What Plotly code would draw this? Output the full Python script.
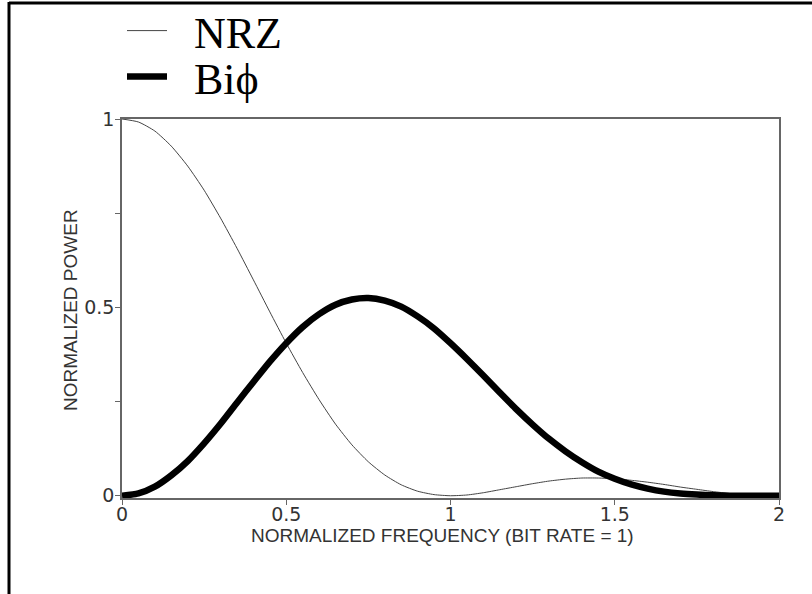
import plotly.graph_objects as go

freq = [round(i * 0.05, 2) for i in range(41)]

nrz = [1.000, 0.992, 0.968, 0.928, 0.875, 0.811, 0.737, 0.657, 0.573, 0.488,
       0.405, 0.327, 0.255, 0.190, 0.135, 0.090, 0.055, 0.029, 0.012, 0.003,
       0.000, 0.002, 0.008, 0.016, 0.024, 0.032, 0.039, 0.044, 0.047, 0.047,
       0.045, 0.041, 0.036, 0.030, 0.023, 0.017, 0.011, 0.006, 0.003, 0.001,
       0.000]

biphase = [0.000, 0.006, 0.024, 0.054, 0.092, 0.139, 0.191, 0.247, 0.302, 0.356,
           0.405, 0.448, 0.482, 0.507, 0.521, 0.525, 0.518, 0.502, 0.476, 0.444,
           0.405, 0.363, 0.319, 0.274, 0.230, 0.189, 0.151, 0.118, 0.089, 0.064,
           0.045, 0.030, 0.019, 0.011, 0.006, 0.003, 0.001, 0.000, 0.000, 0.000,
           0.000]

x_ticks = [0, 0.5, 1, 1.5, 2]
x_tick_text = ["0", "0.5", "1", "1.5", "2"]
y_ticks = [0, 0.25, 0.5, 0.75, 1]
y_tick_text = ["0", "", "0.5", "", "1"]

x_title = "NORMALIZED FREQUENCY (BIT RATE = 1)"
y_title = "NORMALIZED POWER"

W, H = 812, 594
L, R, T, B = 122, 779, 119, 498


def px(xp):
    return (xp - L) / (R - L)


def py(yp):
    return (B - yp) / (B - T)


fig = go.Figure()
fig.add_trace(go.Scatter(
    x=freq, y=nrz, mode="lines", name="\u00a0\u00a0NRZ", legend="legend",
    line=dict(color="#444444", width=1, shape="spline", smoothing=0.6),
))
fig.add_trace(go.Scatter(
    x=freq, y=biphase, mode="lines", name="\u00a0\u00a0Bi\u03d5", legend="legend2",
    line=dict(color="#000000", width=6.5, shape="spline", smoothing=0.6),
))

legend_common = dict(
    font=dict(family="Liberation Serif", size=44, color="#000000"),
    bgcolor="rgba(0,0,0,0)", borderwidth=0, itemwidth=40,
    xanchor="left", yanchor="middle", x=px(122),
)

tick_font = dict(family="DejaVu Sans", size=19, color="#333333")
title_font = dict(family="Liberation Sans", size=19, color="#333333")

fig.update_layout(
    width=W, height=H,
    margin=dict(l=L, r=W - R, t=T, b=H - B, autoexpand=False),
    paper_bgcolor="white", plot_bgcolor="white",
    showlegend=True,
    legend=dict(**legend_common, y=py(31)),
    legend2=dict(**legend_common, y=py(77)),
    xaxis=dict(
        range=[0, 2], tickvals=x_ticks, ticktext=x_tick_text,
        showgrid=False, zeroline=False,
        showline=True, linecolor="#666666", linewidth=1.5, mirror=True,
        ticks="outside", ticklen=5, tickcolor="#666666", tickwidth=1,
        tickfont=tick_font, ticklabelstandoff=-7,
        automargin=False,
    ),
    yaxis=dict(
        range=[-0.006, 1.0], tickvals=y_ticks, ticktext=y_tick_text,
        showgrid=False, zeroline=False,
        showline=True, linecolor="#666666", linewidth=1.5, mirror=True,
        ticks="outside", ticklen=5, tickcolor="#666666", tickwidth=1,
        tickfont=tick_font, ticklabelstandoff=-3,
        automargin=False,
    ),
    annotations=[
        dict(text=x_title, xref="paper", yref="paper", x=px(442), y=py(535),
             xanchor="center", yanchor="middle", showarrow=False, font=title_font),
        dict(text=y_title, xref="paper", yref="paper", x=px(70), y=py(310),
             xanchor="center", yanchor="middle", showarrow=False, textangle=-90,
             font=title_font),
    ],
    shapes=[
        dict(type="line", xref="paper", yref="paper",
             x0=px(9), x1=px(W + 2), y0=py(3), y1=py(3),
             line=dict(color="black", width=3)),
        dict(type="line", xref="paper", yref="paper",
             x0=px(9), x1=px(9), y0=py(2), y1=py(H + 2),
             line=dict(color="black", width=3)),
    ],
)

fig.write_html(
    "out.html",
    config={"displayModeBar": False},
    post_script="document.body.style.margin='0';document.body.style.overflow='hidden';",
)
